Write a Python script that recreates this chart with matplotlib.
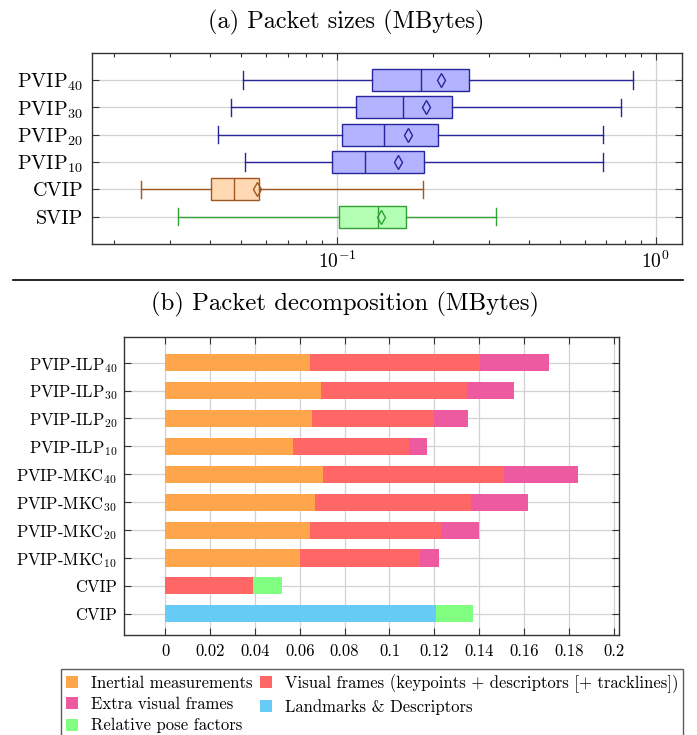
import matplotlib
matplotlib.use('Agg')
import matplotlib.pyplot as plt
import matplotlib.ticker as mticker
from matplotlib.lines import Line2D
from matplotlib.patches import Patch
import numpy as np

plt.rcParams['font.family'] = ['cmr10', 'DejaVu Serif']
plt.rcParams['mathtext.fontset'] = 'cm'
plt.rcParams['axes.formatter.use_mathtext'] = True

# ---------------- data: (a) packet sizes ----------------
box_labels = ['SVIP', 'CVIP', 'PVIP$_{10}$', 'PVIP$_{20}$', 'PVIP$_{30}$', 'PVIP$_{40}$']
whislo = [0.0316, 0.0243, 0.0513, 0.0422, 0.0464, 0.0505]
q1 = [0.1013, 0.0401, 0.0962, 0.104, 0.115, 0.1288]
med = [0.134, 0.0476, 0.122, 0.140, 0.161, 0.184]
mean = [0.1375, 0.0561, 0.155, 0.1675, 0.190, 0.212]
q3 = [0.164, 0.0568, 0.188, 0.208, 0.229, 0.259]
whishi = [0.316, 0.186, 0.684, 0.684, 0.776, 0.849]
box_face = ['#b3ffb3', '#ffd9b3', '#b3b3ff', '#b3b3ff', '#b3b3ff', '#b3b3ff']
box_edge = ['#33a033', '#a0561e', '#26269a', '#26269a', '#26269a', '#26269a']

# ---------------- data: (b) packet decomposition ----------------
bar_labels = ['PVIP-ILP$_{40}$', 'PVIP-ILP$_{30}$', 'PVIP-ILP$_{20}$', 'PVIP-ILP$_{10}$',
              'PVIP-MKC$_{40}$', 'PVIP-MKC$_{30}$', 'PVIP-MKC$_{20}$', 'PVIP-MKC$_{10}$',
              'CVIP', 'CVIP']
inertial = [0.0644, 0.0697, 0.0653, 0.0570, 0.0705, 0.0669, 0.0646, 0.0602, 0.0, 0.0004]
visual = [0.0758, 0.0648, 0.0547, 0.0515, 0.0806, 0.0693, 0.0582, 0.0535, 0.0394, 0.0]
extra = [0.0307, 0.0211, 0.0150, 0.0081, 0.0331, 0.0254, 0.0170, 0.0085, 0.0, 0.0]
landmarks = [0, 0, 0, 0, 0, 0, 0, 0, 0.0, 0.1204]
relpose = [0, 0, 0, 0, 0, 0, 0, 0, 0.0125, 0.0166]
series_names = ['Inertial measurements',
                'Visual frames (keypoints + descriptors [+ tracklines])',
                'Extra visual frames', 'Landmarks & Descriptors', 'Relative pose factors']
series_colors = ['#ffa64d', '#ff6666', '#ee5aa0', '#66ccf5', '#80ff80']
bar_xticks = [0, 0.02, 0.04, 0.06, 0.08, 0.1, 0.12, 0.14, 0.16, 0.18, 0.2]
bar_xticklabels = ['0', '0.02', '0.04', '0.06', '0.08', '0.1', '0.12', '0.14', '0.16', '0.18', '0.2']

W, H = 697, 735
fig = plt.figure(figsize=(W / 100, H / 100), dpi=100)

frame_c = '#333333'
grid_c = '#d2d2d2'

def fx(px):
    return px / W

def fy(py):
    return 1 - py / H

# ---------------- (a) ----------------
ax1 = fig.add_axes([fx(91.7), fy(244), fx(681.7) - fx(91.7), fy(52.7) - fy(244)])
ax1.set_xscale('log')
positions = np.arange(1, len(box_labels) + 1)
for i in range(len(box_labels)):
    st = dict(whislo=whislo[i], q1=q1[i], med=med[i], mean=mean[i], q3=q3[i],
              whishi=whishi[i], fliers=[])
    ec = box_edge[i]
    ax1.bxp([st], positions=[positions[i]], widths=0.8, capwidths=0.64,
            orientation='horizontal', patch_artist=True, showmeans=True,
            showfliers=False, manage_ticks=False,
            boxprops=dict(facecolor=box_face[i], edgecolor=ec, linewidth=1.0),
            whiskerprops=dict(color=ec, linewidth=1.0),
            capprops=dict(color=ec, linewidth=1.0),
            medianprops=dict(color=ec, linewidth=1.0),
            meanprops=dict(marker='d', markerfacecolor='none', markeredgecolor=ec,
                           markersize=7.5, markeredgewidth=1.0),
            zorder=3)
ax1.set_xlim(0.01698, 1.207)
ax1.set_ylim(0, 7)
ax1.set_yticks(positions)
ax1.set_yticklabels(box_labels, fontsize=14.5)
ax1.xaxis.set_major_locator(mticker.LogLocator(base=10, numticks=10))
ax1.xaxis.set_minor_locator(mticker.LogLocator(base=10, subs=np.arange(2, 10), numticks=20))
ax1.xaxis.set_minor_formatter(mticker.NullFormatter())
ax1.grid(True, which='major', axis='both', color=grid_c, linewidth=0.9)
ax1.set_axisbelow(True)
ax1.tick_params(axis='both', which='both', direction='in', top=True, right=True,
                color=frame_c, width=0.8)
ax1.tick_params(axis='both', which='major', length=5)
ax1.tick_params(axis='x', which='minor', length=3)
ax1.tick_params(axis='x', which='major', labelsize=14, pad=5)
ax1.tick_params(axis='y', pad=6)
for s in ax1.spines.values():
    s.set_color(frame_c)
    s.set_linewidth(1.0)

fig.text(fx(346), fy(22), '(a) Packet sizes (MBytes)', ha='center', va='center', fontsize=17.5)

# separator line
fig.add_artist(Line2D([fx(13), fx(683)], [fy(279.5), fy(279.5)], color='black', linewidth=1.2))

fig.text(fx(345), fy(304), '(b) Packet decomposition (MBytes)', ha='center', va='center', fontsize=17.8)

# ---------------- (b) ----------------
ax2 = fig.add_axes([fx(124), fy(635), fx(619.3) - fx(124), fy(337.3) - fy(635)])
ypos = np.arange(len(bar_labels))
series = [inertial, visual, extra, landmarks, relpose]
left = np.zeros(len(bar_labels))
handles = []
for vals, name, col in zip(series, series_names, series_colors):
    v = np.array(vals, dtype=float)
    ax2.barh(ypos, v, left=left, height=0.61, color=col, edgecolor='none', zorder=3)
    left = left + v
    handles.append(Patch(facecolor=col, edgecolor='none', label=name))
ax2.set_xlim(-0.0183, 0.2024)
ax2.set_ylim(9.76, -0.91)
ax2.set_yticks(ypos)
ax2.set_yticklabels(bar_labels, fontsize=12)
ax2.set_xticks(bar_xticks)
ax2.set_xticklabels(bar_xticklabels, fontsize=12)
ax2.grid(True, axis='both', color=grid_c, linewidth=0.9)
ax2.set_axisbelow(True)
ax2.tick_params(axis='both', direction='in', top=True, right=True, length=5,
                color=frame_c, width=0.8)
ax2.tick_params(axis='x', pad=6)
ax2.tick_params(axis='y', pad=5)
for s in ax2.spines.values():
    s.set_color(frame_c)
    s.set_linewidth(1.0)

# legend (column-wise: 3 in first column, 2 in second)
order = [0, 2, 4, 1, 3]
leg = fig.legend([handles[i] for i in order], [series_names[i] for i in order],
                 ncol=2, loc='upper left',
                 bbox_to_anchor=(fx(60.7), fy(740), fx(683.3) - fx(60.7), fy(669) - fy(740)),
                 mode='expand', fontsize=12, frameon=True, fancybox=False,
                 edgecolor=frame_c, borderaxespad=0, handlelength=0.75, handleheight=0.75,
                 handletextpad=0.75, labelspacing=0.36, borderpad=0.3, columnspacing=0.5)
leg.get_frame().set_linewidth(1.0)

fig.savefig('out.png', dpi=100)
